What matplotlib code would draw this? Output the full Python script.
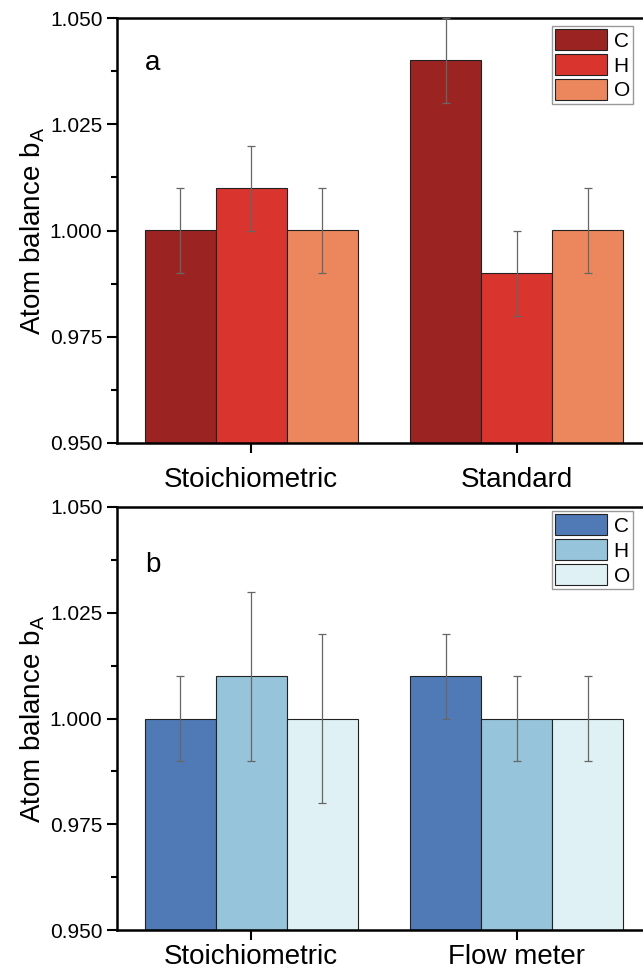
import matplotlib
matplotlib.use("Agg")
import matplotlib.pyplot as plt
import numpy as np

plt.rcParams['font.family'] = ['Liberation Sans', 'DejaVu Sans']

# Data
elements = ["C", "H", "O"]
cats_a = ["Stoichiometric", "Standard"]
vals_a = {"C": [1.000, 1.040], "H": [1.010, 0.990], "O": [1.000, 1.000]}
errs_a = {"C": [0.010, 0.010], "H": [0.010, 0.010], "O": [0.010, 0.010]}
cats_b = ["Stoichiometric", "Flow meter"]
vals_b = {"C": [1.000, 1.010], "H": [1.010, 1.000], "O": [1.000, 1.000]}
errs_b = {"C": [0.010, 0.010], "H": [0.020, 0.010], "O": [0.020, 0.010]}
colors_a = ["#9B2422", "#D9352E", "#EC875D"]
colors_b = ["#4F7AB6", "#95C4DB", "#DFF1F4"]
yticks = [0.950, 0.975, 1.000, 1.025, 1.050]

W, H = 643, 968
fig = plt.figure(figsize=(W / 100, H / 100), dpi=100)

def px_axes(left, top, right, bottom):
    return fig.add_axes([left / W, 1 - bottom / H, (right - left) / W, (bottom - top) / H])

def panel(ax, cats, vals, errs, colors, letter, xpad, ly):
    x = np.arange(len(cats))
    w = 0.267
    handles = []
    for i, el in enumerate(elements):
        b = ax.bar(x + (i - 1) * w, np.array(vals[el]) - 0.95, w, bottom=0.95,
                   color=colors[i], edgecolor="#222222", linewidth=0.8, label=el, zorder=2)
        ax.errorbar(x + (i - 1) * w, vals[el], yerr=errs[el], fmt="none",
                    ecolor="#666666", elinewidth=0.9, capsize=3, capthick=0.9, zorder=3)
        handles.append(b)
    ax.set_xlim(-0.504, 1.504)
    ax.set_ylim(0.950, 1.050)
    ax.set_yticks(yticks)
    ax.set_yticklabels([f"{v:.3f}" for v in yticks], fontsize=15)
    ax.set_yticks([0.9625, 0.9875, 1.0125, 1.0375], minor=True)
    ax.set_xticks(x)
    ax.set_xticklabels(cats, fontsize=20)
    ax.tick_params(axis="both", which="major", direction="out", length=7, width=1.5)
    ax.tick_params(axis="y", which="minor", direction="out", length=4, width=1.5)
    ax.tick_params(axis="x", pad=xpad)
    for s in ax.spines.values():
        s.set_linewidth(1.8)
    ax.set_ylabel("Atom balance b$_\\mathregular{A}$", fontsize=20, labelpad=2)
    ax.text(0.052, ly, letter, transform=ax.transAxes, fontsize=20, va="center", ha="left")
    return handles

def add_legend(ax, handles, top_px):
    ax.legend(handles=handles, labels=elements, loc="upper right",
              bbox_to_anchor=(633 / W, 1 - top_px / H), bbox_transform=fig.transFigure,
              borderaxespad=0, fontsize=15, frameon=True, fancybox=False,
              edgecolor="#999999", framealpha=1, handlelength=2.5, handleheight=1.2,
              labelspacing=0.15, handletextpad=0.3, borderpad=0.15)

ax1 = px_axes(117, 18, 651, 443)
h1 = panel(ax1, cats_a, vals_a, errs_a, colors_a, "a", 10, 0.893)
add_legend(ax1, h1, 26)

ax2 = px_axes(117, 507, 651, 930)
h2 = panel(ax2, cats_b, vals_b, errs_b, colors_b, "b", 3, 0.862)
add_legend(ax2, h2, 511)

fig.savefig("out.png", dpi=100)
